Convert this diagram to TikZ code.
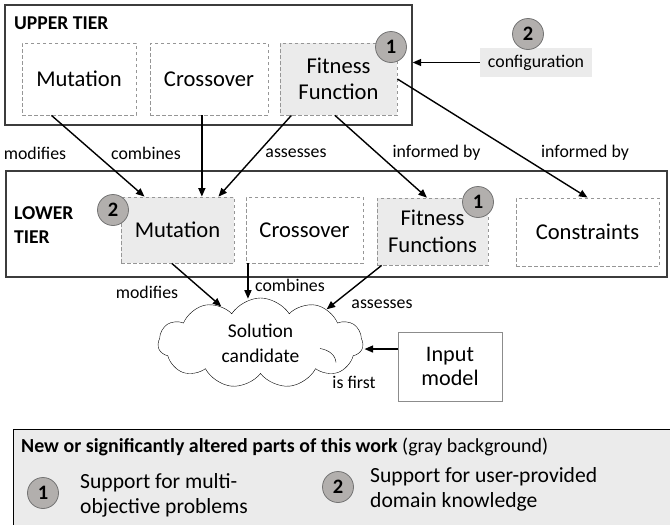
\documentclass[tikz,border=0pt]{standalone}
\usepackage{fontspec}
\setmainfont{Carlito}
\usetikzlibrary{shapes.symbols,calc,arrows.meta}

\definecolor{tierc}{RGB}{60,60,60}
\definecolor{dashc}{RGB}{150,150,150}
\definecolor{boxfill}{RGB}{235,235,235}
\definecolor{badgefill}{RGB}{178,175,173}
\definecolor{badgeline}{RGB}{115,115,115}
\definecolor{inputc}{RGB}{140,140,140}

\begin{document}
\begin{tikzpicture}[x=1pt,y=-1pt,
  tier/.style={draw=tierc, line width=1.3pt, inner sep=0},
  part/.style={draw=dashc, dash pattern=on 3.5pt off 2.5pt, line width=0.8pt,
    inner sep=0, align=center, font=\fontsize{22.6}{26.5}\selectfont},
  newpart/.style={part, fill=boxfill},
  badge/.style={circle, draw=badgeline, fill=badgefill, minimum size=31pt,
    inner sep=0, line width=0.8pt, font=\bfseries\fontsize{20.5}{20.5}\selectfont},
  lbl/.style={inner sep=0, font=\fontsize{17.8}{20}\selectfont},
  tierlbl/.style={inner sep=0, anchor=west, align=left,
    font=\bfseries\fontsize{19.6}{24}\selectfont},
  conn/.style={-{Triangle[length=8.5pt,width=7pt]}, line width=1.4pt}]
\useasboundingbox (0,0) rectangle (670,525);

% ---------- upper tier ----------
\node[tier, minimum width=407, minimum height=120] (ut) at (208.5,65) {};
\node[tierlbl] (utl) at (14,23) {UPPER TIER};
\node[part, minimum width=114, minimum height=72] (um) at (79,79) {Mutation};
\node[part, minimum width=118, minimum height=72] (uc) at (209,79) {Crossover};
\node[newpart, minimum width=117, minimum height=72] (uf) at (338.5,79) {Fitness\\Function};
\node[badge] (b1u) at (391,47) {1};

% configuration input of the upper tier
\node[fill=boxfill, minimum width=112, minimum height=29, inner sep=0,
  font=\fontsize{17.8}{20}\selectfont] (cfg) at (536,62.5) {configuration};
\node[badge] (b2u) at (528,34) {2};
\draw[conn] (cfg.west) -- (cfg.west -| ut.east);

% ---------- lower tier ----------
\node[tier, minimum width=661, minimum height=106] (lt) at (336.5,224) {};
\node[tierlbl] (ltl) at (14,225) {LOWER\\TIER};
\node[newpart, minimum width=113, minimum height=66] (lm) at (177.5,230) {Mutation};
\node[part, minimum width=117, minimum height=66] (lc) at (304.5,230) {Crossover};
\node[newpart, minimum width=111, minimum height=67] (lf) at (432.5,231.5) {Fitness\\Functions};
\node[part, minimum width=143, minimum height=68] (lk) at (587.5,232) {Constraints};
\node[badge] (b2l) at (113,210) {2};
\node[badge] (b1l) at (478,202) {1};

% upper tier -> lower tier
\draw[conn] ($(um.south west)!0.26!(um.south east)$) -- ($(lm.north west)!0.21!(lm.north east)$);
\coordinate (ucs) at ($(uc.south west)!0.44!(uc.south east)$);
\draw[conn] (ucs) -- (ucs |- lm.north);
\draw[conn] ($(uf.south west)!0.10!(uf.south east)$) -- ($(lm.north west)!0.86!(lm.north east)$);
\draw[conn] ($(uf.south west)!0.47!(uf.south east)$) -- ($(lf.north west)!0.45!(lf.north east)$);
\draw[conn] (uf.east) -- (lk.north);

\node[lbl] (l1) at (35,153) {modifies};
\node[lbl] (l2) at (146,153) {combines};
\node[lbl] (l3) at (296,153) {assesses};
\node[lbl] (l4) at (436.5,153) {informed by};
\node[lbl] (l5) at (585,153) {informed by};

% ---------- solution candidate ----------
\node[cloud, draw, fill=white, cloud puffs=11, cloud puff arc=115, aspect=2.3,
  minimum width=205pt, minimum height=90pt, inner sep=0, align=center,
  font=\fontsize{19.5}{25}\selectfont] (sol) at (260.5,343) {Solution\\candidate};
% inner curl of the cloud outline
\draw (320,348.5) .. controls (329,350) and (335.5,355) .. (336,362.5);
\node[draw=inputc, line width=0.9pt, minimum width=104, minimum height=69,
  inner sep=0, align=center, font=\fontsize{22.2}{24.5}\selectfont] (im) at (450,366.5) {Input\\model};

\draw[conn] ($(lm.south west)!0.45!(lm.south east)$) -- (sol.137);
\coordinate (lcs) at ($(lc.south west)!0.02!(lc.south east)$);
\draw[conn] (lcs) -- (lcs |- sol.100);
\draw[conn] ($(lf.south west)!0.045!(lf.south east)$) -- (sol.27);
\coordinate (ims) at ($(im.north west)!0.25!(im.south west)$);
\draw[conn] (ims) -- ++(-33,0);

\node[lbl] (l6) at (147,292) {modifies};
\node[lbl] (l7) at (290,285) {combines};
\node[lbl] (l8) at (382,304) {assesses};
\node[lbl] (l9) at (354,382) {is first};

% ---------- legend ----------
\node[draw=black, fill=boxfill, line width=1pt, minimum width=662, minimum height=100,
  inner sep=0, anchor=north west] (leg) at (13,429) {};
\node[anchor=west, inner sep=0, font=\fontsize{19.9}{22}\selectfont] (lh) at (21,447)
  {\textbf{New or significantly altered parts of this work} (gray background)};
\node[badge] (lb1) at (43,493) {1};
\node[anchor=west, inner sep=0, align=left, font=\fontsize{21.6}{25}\selectfont] (lt1) at (80,495.5)
  {Support for multi-\\objective problems};
\node[badge] (lb2) at (338,487) {2};
\node[anchor=west, inner sep=0, align=left, font=\fontsize{21.6}{25}\selectfont] (lt2) at (370,489.5)
  {Support for user-provided\\domain knowledge};
\end{tikzpicture}
\end{document}
